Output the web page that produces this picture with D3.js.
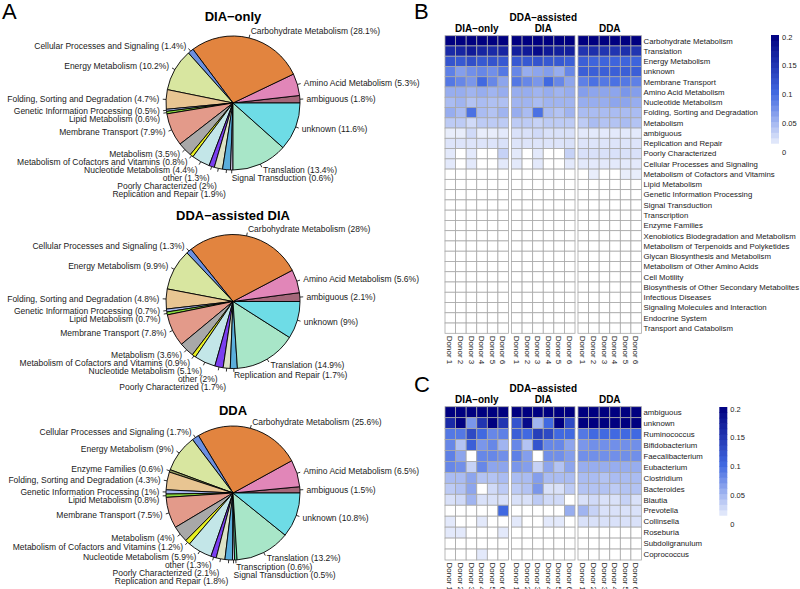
<!DOCTYPE html>
<html><head><meta charset="utf-8">
<script src="https://cdn.jsdelivr.net/npm/d3@7"></script>
<style>
body{margin:0;background:#fff}
text{font-family:"Liberation Sans",Arial,Helvetica,sans-serif}
</style>
</head><body>
<svg id="c" width="800" height="589"></svg>
<script>
// ---------------- DATA ----------------
const pieCategories = ["ambiguous","Amino Acid Metabolism","Carbohydrate Metabolism","Cellular Processes and Signaling","Energy Metabolism","Enzyme Families","Folding, Sorting and Degradation","Genetic Information Processing","Lipid Metabolism","Membrane Transport","Metabolism","Metabolism of Cofactors and Vitamins","Nucleotide Metabolism","other","Poorly Characterized","Replication and Repair","Signal Transduction","Transcription","Translation","unknown"];
const pieColors = ["#a5677a","#e186b8","#e2843f","#6b8fe0","#d8e6a0","#8f9a5e","#e8c592","#a9b9f0","#88d83c","#e39a8a","#a8a8a8","#e8f020","#c3e6e8","#7b3ff0","#dce3c6","#5aaedb","#cfc6e6","#5fd69c","#a8e6c8","#6edce6"];
const pieDIAonly     = [1.8,5.3,28.1,1.4,10.2,0,4.7,0.5,0.6,7.9,3.5,0.8,4.4,1.3,2,1.9,0.6,0,13.4,11.6];
const pieDDAassisted = [2.1,5.6,28,1.3,9.9,0,4.8,0.7,0.7,7.8,3.6,0.9,5.1,2,1.7,1.7,0,0,14.9,9];
const pieDDA         = [1.5,6.5,25.6,1.7,9,0.6,4.3,1,0.8,7.5,4,1.2,5.9,1.3,2.1,1.8,0.5,0.6,13.2,10.8];

const methods = ["DIA-only","DDA-assisted DIA","DDA"];
const methodTitles = [["DIA\u2212only"],["DDA\u2212assisted","DIA"],["DDA"]];
const donors = ["Donor 1","Donor 2","Donor 3","Donor 4","Donor 5","Donor 6"];

const keggFunctions = ["Carbohydrate Metabolism","Translation","Energy Metabolism","unknown","Membrane Transport","Amino Acid Metabolism","Nucleotide Metabolism","Folding, Sorting and Degradation","Metabolism","ambiguous","Replication and Repair","Poorly Characterized","Cellular Processes and Signaling","Metabolism of Cofactors and Vitamins","Lipid Metabolism","Genetic Information Processing","Signal Transduction","Transcription","Enzyme Families","Xenobiotics Biodegradation and Metabolism","Metabolism of Terpenoids and Polyketides","Glycan Biosynthesis and Metabolism","Metabolism of Other Amino Acids","Cell Motility","Biosynthesis of Other Secondary Metabolites","Infectious Diseases","Signaling Molecules and Interaction","Endocrine System","Transport and Catabolism"];
const Z6 = [0,0,0,0,0,0];
const keggDIAonly = [
 [0.27,0.28,0.26,0.27,0.27,0.26],
 [0.16,0.165,0.175,0.165,0.16,0.165],
 [0.12,0.115,0.125,0.115,0.12,0.115],
 [0.085,0.065,0.075,0.08,0.075,0.09],
 [0.09,0.08,0.07,0.1,0.08,0.06],
 [0.055,0.055,0.05,0.055,0.05,0.055],
 [0.045,0.05,0.04,0.045,0.042,0.042],
 [0.055,0.045,0.095,0.045,0.04,0.05],
 [0.035,0.035,0.025,0.035,0.035,0.035],
 [0.012,0.012,0.025,0.012,0.012,0.015],
 [0.018,0.018,0.018,0.018,0.018,0.02],
 [0.015,0,0.015,0,0,0.03],
 [0.015,0,0.015,0,0,0.015],
 Z6,Z6,Z6,Z6,Z6,Z6,Z6,Z6,Z6,Z6,Z6,Z6,Z6,Z6,Z6,Z6];
const keggDDAassisted = [
 [0.27,0.28,0.27,0.27,0.27,0.26],
 [0.17,0.175,0.19,0.175,0.17,0.17],
 [0.115,0.115,0.12,0.115,0.115,0.11],
 [0.08,0.055,0.06,0.065,0.055,0.08],
 [0.09,0.08,0.07,0.1,0.08,0.06],
 [0.055,0.055,0.05,0.055,0.05,0.055],
 [0.05,0.05,0.045,0.05,0.05,0.05],
 [0.055,0.045,0.095,0.045,0.04,0.05],
 [0.035,0.035,0.03,0.035,0.035,0.035],
 [0.02,0.02,0.025,0.02,0.02,0.02],
 [0.018,0.018,0.018,0.018,0.018,0.02],
 [0.015,0,0.015,0,0,0.03],
 [0.015,0,0.015,0,0,0.015],
 Z6,Z6,Z6,Z6,Z6,Z6,Z6,Z6,Z6,Z6,Z6,Z6,Z6,Z6,Z6,Z6];
const keggDDA = [
 [0.25,0.25,0.25,0.25,0.25,0.25],
 [0.15,0.155,0.15,0.15,0.155,0.15],
 [0.11,0.105,0.105,0.105,0.105,0.105],
 [0.11,0.11,0.11,0.11,0.11,0.11],
 [0.085,0.095,0.09,0.095,0.09,0.085],
 [0.065,0.06,0.06,0.06,0.07,0.065],
 [0.055,0.055,0.055,0.06,0.06,0.055],
 [0.045,0.045,0.045,0.045,0.045,0.045],
 [0.035,0.045,0.04,0.04,0.045,0.04],
 [0.015,0.015,0.015,0.015,0.015,0.015],
 [0.018,0.018,0.018,0.018,0.018,0.018],
 [0.02,0.02,0.02,0.02,0.02,0.02],
 [0.015,0.015,0.015,0.015,0.015,0.015],
 [0,0.012,0,0,0.012,0.012],
 Z6,Z6,Z6,Z6,Z6,Z6,Z6,Z6,Z6,Z6,Z6,Z6,Z6,Z6,Z6];

const genera = ["ambiguous","unknown","Ruminococcus","Bifidobacterium","Faecalibacterium","Eubacterium","Clostridium","Bacteroides","Blautia","Prevotella","Collinsella","Roseburia","Subdoligranulum","Coprococcus"];
const genusDIAonly = [
 [0.3,0.3,0.3,0.3,0.3,0.3],
 [0.16,0.22,0.07,0.15,0.22,0.15],
 [0.09,0.09,0.13,0.1,0.08,0.085],
 [0.08,0.04,0.11,0.07,0.08,0.05],
 [0.085,0.06,0,0.08,0.08,0.075],
 [0.08,0.075,0.03,0.08,0.06,0.06],
 [0.045,0.045,0.06,0.04,0.04,0.045],
 [0.035,0.04,0.06,0,0.025,0.035],
 [0.02,0.025,0.05,0.02,0.02,0.02],
 [0,0,0,0,0,0.1],
 [0.015,0,0,0.015,0,0],
 [0.015,0.015,0,0,0,0.015],
 [0,0,0,0,0,0],
 [0,0,0,0.015,0,0]];
const genusDDAassisted = [
 [0.3,0.3,0.3,0.3,0.3,0.3],
 [0.12,0.19,0.05,0.1,0.22,0.13],
 [0.11,0.1,0.14,0.13,0.1,0.1],
 [0.08,0.04,0.12,0.08,0.08,0.06],
 [0.085,0.065,0,0.075,0.075,0.065],
 [0.07,0.065,0.03,0.06,0.04,0.06],
 [0.045,0.045,0.065,0.045,0.045,0.045],
 [0.035,0.04,0.07,0.02,0.02,0.035],
 [0.02,0.02,0.035,0.025,0.025,0],
 [0,0,0,0,0,0.055],
 [0.015,0,0,0.015,0.015,0],
 [0,0,0,0,0,0],
 [0,0,0,0,0,0],
 [0,0,0,0,0,0]];
const genusDDA = [
 [0.3,0.3,0.3,0.3,0.3,0.3],
 [0.22,0.22,0.22,0.22,0.22,0.22],
 [0.09,0.1,0.1,0.1,0.1,0.1],
 [0.07,0.075,0.075,0.075,0.075,0.075],
 [0.075,0.075,0.075,0.075,0.075,0.075],
 [0.055,0.055,0.055,0.055,0.055,0.055],
 [0.045,0.045,0.04,0.045,0.045,0.045],
 [0.04,0.04,0.04,0.035,0.04,0.04],
 [0.02,0.025,0.02,0.02,0.03,0.02],
 [0.05,0.03,0.02,0.02,0.02,0.02],
 [0.02,0.02,0.02,0.02,0.02,0.02],
 [0,0,0,0,0,0],
 [0,0,0,0,0,0],
 [0,0,0,0,0,0]];
const legendTicks = [0,0.05,0.1,0.15,0.2];

// ---------------- DRAW ----------------
const svg = d3.select("#c");
const TXT = "#1a1a1a";

function letter(t,x,y){ svg.append("text").attr("x",x).attr("y",y).attr("font-size",22).attr("fill","#000").text(t); }
letter("A",2,19); letter("B",414,19); letter("C",414,392);

// ---- Pies ----
const pieLayouts = [
 {title:"DIA\u2212only", values:pieDIAonly, cx:233, cy:103, ty:21.3},
 {title:"DDA\u2212assisted DIA", values:pieDDAassisted, cx:233, cy:301.5, ty:219.6},
 {title:"DDA", values:pieDDA, cx:233, cy:493, ty:414.6}
];
const R = 67;
const pieColor = d3.scaleOrdinal().domain(pieCategories).range(pieColors);
const pieGen = d3.pie().sort(null).value(d=>d.v).startAngle(Math.PI/2).endAngle(Math.PI/2-2*Math.PI);
const arcGen = d3.arc().innerRadius(0).outerRadius(R);

pieLayouts.forEach(p=>{
  const g = svg.append("g").attr("transform",`translate(${p.cx},${p.cy})`);
  svg.append("text").attr("x",p.cx).attr("y",p.ty).attr("text-anchor","middle")
     .attr("font-size",13).attr("font-weight","bold").attr("fill","#000").text(p.title);
  const data = pieCategories.map((c,i)=>({c, v:p.values[i]})).filter(d=>d.v>0);
  const arcs = pieGen(data);
  g.selectAll("path").data(arcs).join("path")
    .attr("d",arcGen).attr("fill",d=>pieColor(d.data.c))
    .attr("stroke","#000").attr("stroke-width",0.9).attr("stroke-linejoin","round");
  const labels = arcs.map(d=>{
    const a = (d.startAngle+d.endAngle)/2;
    const s = Math.sin(a), c = Math.cos(a);
    return {d, a, s, c, x: 1.1*R*s, y: -1.1*R*c, right: s > -0.03,
            text: `${d.data.c} (${d.data.v}%)`};
  });
  [true,false].forEach(side=>{
    const L = labels.filter(l=>l.right===side).sort((a,b)=>a.y-b.y);
    for(let i=1;i<L.length;i++){ if(L[i].y < L[i-1].y+8) L[i].y = L[i-1].y+8; }
  });
  g.selectAll("line.tk").data(labels).join("line").attr("class","tk")
    .attr("x1",l=>R*l.s).attr("y1",l=>-R*l.c)
    .attr("x2",l=>1.05*R*l.s).attr("y2",l=>-1.05*R*l.c)
    .attr("stroke","#000").attr("stroke-width",0.8);
  g.selectAll("text.lb").data(labels).join("text").attr("class","lb")
    .attr("x",l=>l.x).attr("y",l=>l.y).attr("dy","0.35em")
    .attr("text-anchor",l=>l.right?"start":"end")
    .attr("font-size",8.5).attr("fill",TXT).text(l=>l.text);
});

// ---- Heatmaps ----
const heatColor = d3.scaleLinear().domain([0,0.1,0.2]).range(["#ffffff","#4169e1","#000080"]).clamp(true);

function heatmap(rows, sets, top, bottom, cb){
  const xGroup = d3.scaleBand().domain(methods).range([445,641.5]).paddingInner(0.045);
  const xDonor = d3.scaleBand().domain(donors).range([0,xGroup.bandwidth()]);
  const y = d3.scaleBand().domain(rows).range([top,bottom]);
  const g = svg.append("g");
  methods.forEach((m,mi)=>{
    const gx = xGroup(m);
    const cells = [];
    rows.forEach((r,ri)=>donors.forEach((d,di)=>cells.push({r,d,v:sets[mi][ri][di]})));
    g.append("g").selectAll("rect").data(cells).join("rect")
      .attr("x",c=>gx+xDonor(c.d)).attr("y",c=>y(c.r))
      .attr("width",xDonor.bandwidth()).attr("height",y.bandwidth())
      .attr("fill",c=>heatColor(c.v)).attr("stroke","#a8a8a8").attr("stroke-width",0.8);
    const cx = gx + xGroup.bandwidth()/2;
    const lines = methodTitles[mi];
    lines.forEach((t,li)=>{
      svg.append("text").attr("x",cx).attr("y",top-4-(lines.length-1-li)*10.3)
        .attr("text-anchor","middle").attr("font-size",10).attr("font-weight","bold")
        .attr("fill","#000").text(t);
    });
    g.append("g").selectAll("text").data(donors).join("text")
      .attr("transform",d=>`translate(${gx+xDonor(d)+xDonor.bandwidth()/2},${bottom+2.5}) rotate(90)`)
      .attr("dy","0.35em").attr("font-size",8).attr("fill",TXT).text(d=>d);
  });
  g.append("g").selectAll("text").data(rows).join("text")
    .attr("x",643.5).attr("y",r=>y(r)+y.bandwidth()/2).attr("dy","0.35em")
    .attr("font-size",7.8).attr("fill",TXT).text(r=>r);
  // colour legend
  const ly = d3.scaleLinear().domain([0,0.2]).range([cb.y0, cb.y0-115]);
  const steps = d3.range(0.012,0.2,0.0094);
  const lg = svg.append("g");
  lg.selectAll("rect").data(steps).join("rect")
    .attr("x",cb.x).attr("width",8)
    .attr("y",v=>ly(Math.min(0.2,v+0.0094))-2).attr("height",v=>ly(v)-ly(Math.min(0.2,v+0.0094))+0.6)
    .attr("fill",v=>heatColor(v+0.0047));
  lg.selectAll("text").data(legendTicks).join("text")
    .attr("x",cb.x+11).attr("y",v=>ly(v)).attr("dy","0.35em")
    .attr("font-size",7.5).attr("fill","#222").text(v=>v);
}
heatmap(keggFunctions,[keggDIAonly,keggDDAassisted,keggDDA],35.7,333.3,{x:771,y0:152});
heatmap(genera,[genusDIAonly,genusDDAassisted,genusDDA],406.7,560,{x:719.3,y0:524});
</script>
</body></html>
